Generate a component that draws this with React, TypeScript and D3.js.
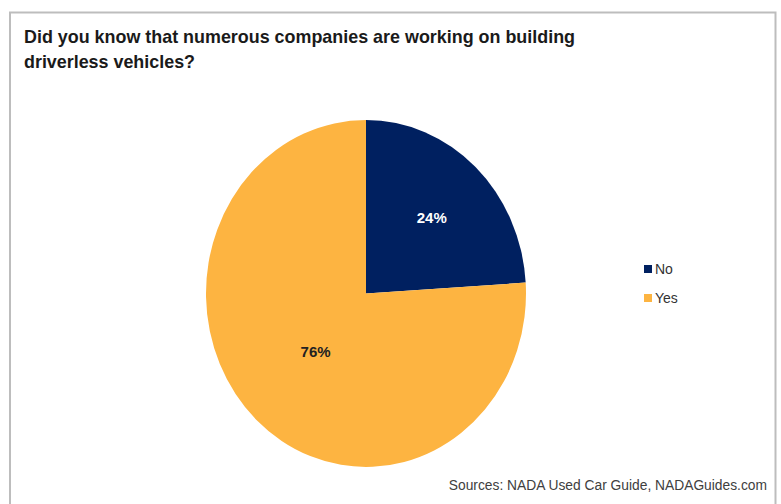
import React from "react";
import * as d3 from "d3";

const categories = ["No", "Yes"];
const values = [24, 76];
const colors = ["#002060", "#FDB441"];
const titleLines = [
  "Did you know that numerous companies are working on building",
  "driverless vehicles?",
];
const sourceText = "Sources: NADA Used Car Guide, NADAGuides.com";

export default function App() {
  const W = 781, H = 504;
  const cx = 366, cy = 293.5, R = 160, sy = 173.5 / 160;
  const pie = d3.pie<number>().sort(null).value((d) => d);
  const arcs = pie(values);
  const arc = d3.arc<d3.PieArcDatum<number>>().innerRadius(0).outerRadius(R);
  const labelFactor = [0.6, 0.46];
  const labelColors = ["#ffffff", "#222222"];
  const font = "'Liberation Sans', Arial, sans-serif";
  return (
    <svg width={W} height={H} style={{ position: "absolute", left: 0, top: 0, background: "#fff" }}>
      <rect x={0} y={0} width={W} height={H} fill="#fff" />
      <path d={`M10,${H} L10,12.5 L775.5,12.5 L775.5,${H}`} fill="none" stroke="#bdbdbd" strokeWidth={2} />
      <text x={24} y={43} fontFamily={font} fontWeight="bold" fontSize={18.5} fill="#1a1a1a"
        textLength={551} lengthAdjust="spacingAndGlyphs">{titleLines[0]}</text>
      <text x={24} y={68} fontFamily={font} fontWeight="bold" fontSize={18.5} fill="#1a1a1a"
        textLength={171} lengthAdjust="spacingAndGlyphs">{titleLines[1]}</text>
      <g transform={`translate(${cx},${cy}) scale(1,${sy})`}>
        {arcs.map((a, i) => (
          <path key={categories[i]} d={arc(a) || ""} fill={colors[i]} />
        ))}
      </g>
      {arcs.map((a, i) => {
        const mid = (a.startAngle + a.endAngle) / 2;
        const r = R * labelFactor[i];
        const x = cx + r * Math.sin(mid);
        const y = cy - r * Math.cos(mid) * sy;
        return (
          <text key={"l" + i} x={x} y={y} textAnchor="middle" dominantBaseline="central"
            fontFamily={font} fontWeight="bold" fontSize={15} fill={labelColors[i]}>
            {values[i]}%
          </text>
        );
      })}
      {categories.map((c, i) => (
        <g key={"lg" + c} transform={`translate(644,${269 + i * 29})`}>
          <rect x={0} y={-4} width={8} height={8} fill={colors[i]} />
          <text x={11} y={0} dominantBaseline="central" fontFamily={font} fontSize={14} fill="#333">{c}</text>
        </g>
      ))}
      <text x={767} y={490} textAnchor="end" fontFamily={font} fontSize={13.8} fill="#404040">{sourceText}</text>
    </svg>
  );
}
